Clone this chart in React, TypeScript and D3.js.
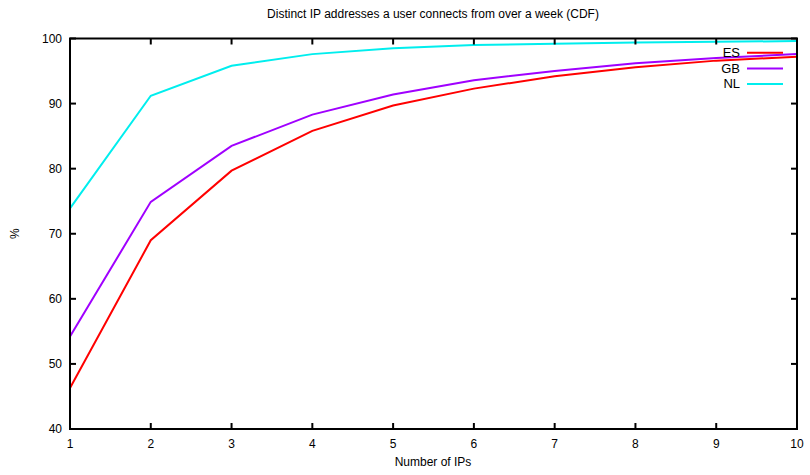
import React from "react";
import * as d3 from "d3";

const xValues = [1, 2, 3, 4, 5, 6, 7, 8, 9, 10];
const esValues = [46.3, 69.0, 79.7, 85.8, 89.7, 92.3, 94.2, 95.6, 96.6, 97.2];
const gbValues = [54.2, 74.9, 83.5, 88.3, 91.4, 93.6, 95.0, 96.2, 97.0, 97.6];
const nlValues = [73.9, 91.2, 95.8, 97.6, 98.5, 99.0, 99.2, 99.4, 99.5, 99.6];
const seriesNames = ["ES", "GB", "NL"];
const seriesColors = ["#ff0000", "#a000ff", "#00eeee"];
const xTicks = [1, 2, 3, 4, 5, 6, 7, 8, 9, 10];
const yTicks = [40, 50, 60, 70, 80, 90, 100];

const W = 810;
const H = 475;
const left = 70;
const right = 797;
const top = 38.5;
const bottom = 429;
const font = "'Liberation Sans', Arial, sans-serif";

export default function App() {
  const x = d3.scaleLinear().domain([1, 10]).range([left, right]);
  const y = d3.scaleLinear().domain([40, 100]).range([bottom, top]);
  const line = d3
    .line<[number, number]>()
    .x((d) => x(d[0]))
    .y((d) => y(d[1]));
  const allSeries = [esValues, gbValues, nlValues];
  const tickLen = 6;

  return (
    <svg
      width={W}
      height={H}
      style={{ position: "absolute", left: 0, top: 0, background: "#fff" }}
      fontFamily={font}
    >
      <rect x={0} y={0} width={W} height={H} fill="#fff" />
      <text x={433} y={18} textAnchor="middle" fontSize={12} fill="#000">
        Distinct IP addresses a user connects from over a week (CDF)
      </text>

      {/* series */}
      {allSeries.map((vals, i) => (
        <path
          key={seriesNames[i]}
          d={line(xValues.map((v, j) => [v, vals[j]] as [number, number])) || ""}
          fill="none"
          stroke={seriesColors[i]}
          strokeWidth={2}
          strokeLinejoin="miter"
        />
      ))}

      {/* ticks */}
      {xTicks.map((t) => (
        <g key={"x" + t}>
          <line x1={x(t)} x2={x(t)} y1={bottom} y2={bottom - tickLen} stroke="#000" strokeWidth={2} />
          <line x1={x(t)} x2={x(t)} y1={top} y2={top + tickLen} stroke="#000" strokeWidth={2} />
          <text x={x(t)} y={bottom + 19} textAnchor="middle" fontSize={12} fill="#000">
            {t}
          </text>
        </g>
      ))}
      {yTicks.map((t) => (
        <g key={"y" + t}>
          <line x1={left} x2={left + tickLen} y1={y(t)} y2={y(t)} stroke="#000" strokeWidth={2} />
          <line x1={right} x2={right - tickLen} y1={y(t)} y2={y(t)} stroke="#000" strokeWidth={2} />
          <text x={left - 8} y={y(t) + 4} textAnchor="end" fontSize={12} fill="#000">
            {t}
          </text>
        </g>
      ))}

      {/* frame */}
      <rect x={left} y={top} width={right - left} height={bottom - top} fill="none" stroke="#000" strokeWidth={2} />

      {/* legend */}
      {seriesNames.map((n, i) => (
        <g key={"lg" + n}>
          <text x={740} y={57 + i * 15.7} textAnchor="end" fontSize={13} fill="#000">
            {n}
          </text>
          <line x1={747} x2={783} y1={52.7 + i * 15.7} y2={52.7 + i * 15.7} stroke={seriesColors[i]} strokeWidth={2} />
        </g>
      ))}

      {/* axis titles */}
      <text x={433} y={466} textAnchor="middle" fontSize={12} fill="#000">
        Number of IPs
      </text>
      <text
        transform={`translate(19, ${(top + bottom) / 2}) rotate(-90)`}
        textAnchor="middle"
        fontSize={12}
        fill="#000"
      >
        %
      </text>
    </svg>
  );
}
